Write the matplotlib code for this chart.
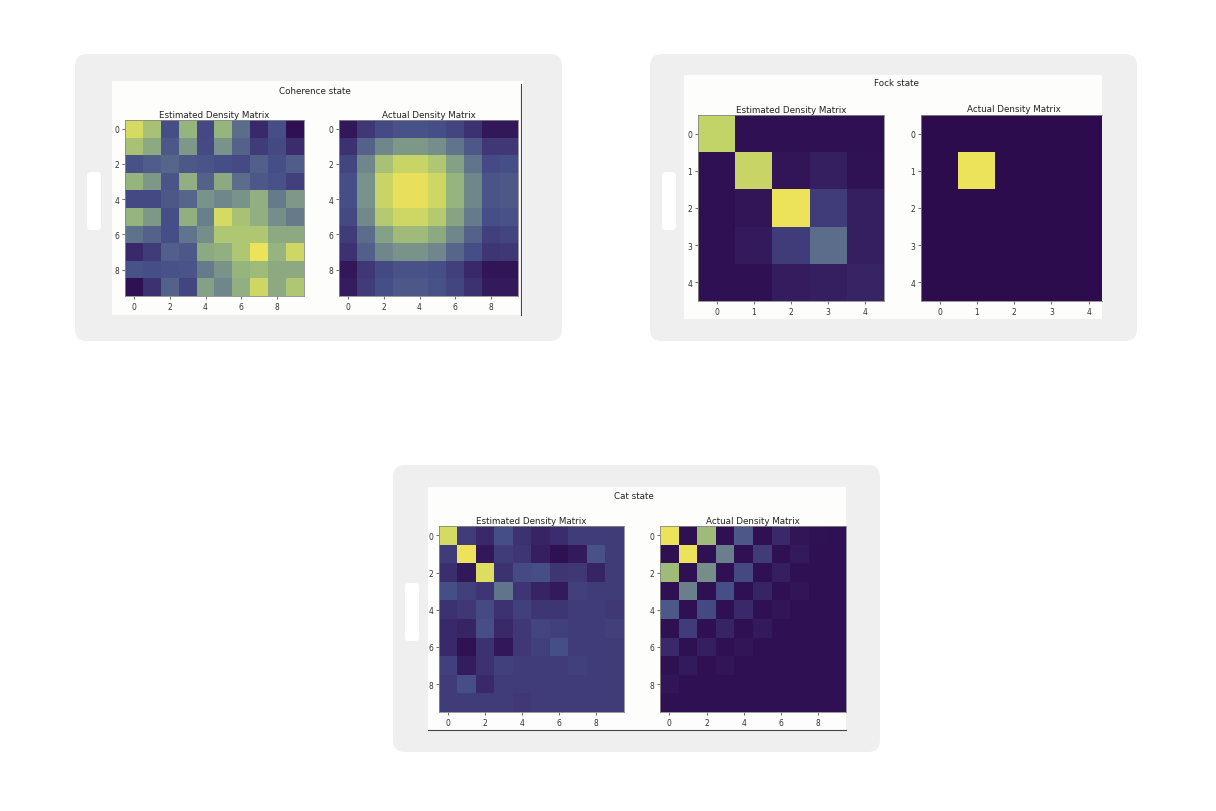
import numpy as np
import matplotlib
matplotlib.use("Agg")
import matplotlib.pyplot as plt
from matplotlib.patches import FancyBboxPatch, Rectangle
from matplotlib.colors import LinearSegmentedColormap

# --- data (0..1 on the colour scale) ---
coherence_est = [
    [0.92, 0.78, 0.30, 0.72, 0.27, 0.72, 0.45, 0.12, 0.30, 0.02],
    [0.78, 0.68, 0.35, 0.62, 0.28, 0.60, 0.40, 0.20, 0.27, 0.13],
    [0.32, 0.37, 0.42, 0.35, 0.33, 0.30, 0.28, 0.38, 0.30, 0.37],
    [0.72, 0.62, 0.33, 0.70, 0.40, 0.68, 0.45, 0.35, 0.32, 0.22],
    [0.27, 0.27, 0.35, 0.42, 0.60, 0.55, 0.60, 0.70, 0.50, 0.62],
    [0.72, 0.62, 0.30, 0.70, 0.52, 0.92, 0.78, 0.70, 0.58, 0.50],
    [0.47, 0.40, 0.30, 0.48, 0.58, 0.80, 0.80, 0.80, 0.68, 0.68],
    [0.12, 0.20, 0.38, 0.35, 0.68, 0.70, 0.80, 1.00, 0.72, 0.90],
    [0.32, 0.30, 0.32, 0.33, 0.50, 0.60, 0.72, 0.75, 0.68, 0.68],
    [0.02, 0.15, 0.40, 0.25, 0.65, 0.55, 0.70, 0.90, 0.68, 0.80],
]
coherence_act = [
    [0.05, 0.18, 0.28, 0.32, 0.32, 0.30, 0.25, 0.15, 0.05, 0.05],
    [0.15, 0.40, 0.55, 0.62, 0.62, 0.58, 0.48, 0.35, 0.18, 0.18],
    [0.25, 0.55, 0.78, 0.88, 0.88, 0.80, 0.65, 0.48, 0.28, 0.30],
    [0.30, 0.60, 0.88, 0.98, 0.98, 0.90, 0.72, 0.55, 0.33, 0.35],
    [0.30, 0.60, 0.88, 0.98, 0.98, 0.90, 0.72, 0.55, 0.33, 0.35],
    [0.27, 0.56, 0.82, 0.90, 0.90, 0.82, 0.66, 0.50, 0.30, 0.32],
    [0.20, 0.45, 0.65, 0.75, 0.75, 0.68, 0.55, 0.40, 0.22, 0.25],
    [0.15, 0.38, 0.55, 0.60, 0.60, 0.55, 0.42, 0.30, 0.17, 0.18],
    [0.05, 0.18, 0.27, 0.32, 0.32, 0.30, 0.22, 0.12, 0.04, 0.04],
    [0.07, 0.20, 0.30, 0.35, 0.35, 0.32, 0.25, 0.15, 0.06, 0.06],
]
fock_est = [
    [0.86, 0.02, 0.02, 0.02, 0.02],
    [0.02, 0.88, 0.04, 0.08, 0.03],
    [0.02, 0.04, 1.00, 0.20, 0.08],
    [0.02, 0.06, 0.20, 0.45, 0.08],
    [0.02, 0.02, 0.07, 0.08, 0.10],
]
fock_act = [
    [0.0, 0.0, 0.0, 0.0, 0.0],
    [0.0, 1.0, 0.0, 0.0, 0.0],
    [0.0, 0.0, 0.0, 0.0, 0.0],
    [0.0, 0.0, 0.0, 0.0, 0.0],
    [0.0, 0.0, 0.0, 0.0, 0.0],
]
cat_est = [
    [0.92, 0.20, 0.12, 0.30, 0.15, 0.10, 0.13, 0.20, 0.20, 0.20],
    [0.20, 1.00, 0.05, 0.20, 0.17, 0.08, 0.02, 0.06, 0.32, 0.20],
    [0.14, 0.05, 0.95, 0.15, 0.28, 0.30, 0.17, 0.18, 0.10, 0.20],
    [0.30, 0.22, 0.17, 0.48, 0.17, 0.10, 0.06, 0.22, 0.20, 0.20],
    [0.15, 0.18, 0.28, 0.15, 0.22, 0.17, 0.17, 0.20, 0.20, 0.18],
    [0.12, 0.10, 0.30, 0.12, 0.18, 0.25, 0.22, 0.20, 0.20, 0.22],
    [0.12, 0.03, 0.15, 0.05, 0.18, 0.22, 0.30, 0.20, 0.20, 0.20],
    [0.22, 0.07, 0.15, 0.22, 0.20, 0.20, 0.20, 0.22, 0.20, 0.20],
    [0.20, 0.30, 0.12, 0.20, 0.20, 0.20, 0.20, 0.20, 0.20, 0.20],
    [0.20, 0.20, 0.20, 0.20, 0.18, 0.20, 0.20, 0.20, 0.20, 0.20],
]
cat_act = [
    [1.00, 0.02, 0.75, 0.02, 0.35, 0.02, 0.12, 0.04, 0.03, 0.02],
    [0.02, 1.00, 0.02, 0.52, 0.02, 0.20, 0.02, 0.06, 0.02, 0.02],
    [0.75, 0.02, 0.58, 0.02, 0.27, 0.02, 0.08, 0.02, 0.02, 0.02],
    [0.02, 0.52, 0.02, 0.30, 0.02, 0.10, 0.02, 0.04, 0.02, 0.02],
    [0.35, 0.02, 0.27, 0.02, 0.12, 0.02, 0.04, 0.02, 0.02, 0.02],
    [0.02, 0.20, 0.02, 0.10, 0.02, 0.06, 0.02, 0.02, 0.02, 0.02],
    [0.12, 0.02, 0.08, 0.02, 0.04, 0.02, 0.02, 0.02, 0.02, 0.02],
    [0.02, 0.06, 0.02, 0.04, 0.02, 0.02, 0.02, 0.02, 0.02, 0.02],
    [0.04, 0.02, 0.02, 0.02, 0.02, 0.02, 0.02, 0.02, 0.02, 0.02],
    [0.02, 0.02, 0.02, 0.02, 0.02, 0.02, 0.02, 0.02, 0.02, 0.02],
]

# muted viridis, as it looks in the screenshots
cmap = LinearSegmentedColormap.from_list("muted_viridis", [
    (0.00, "#2d0c4e"), (0.15, "#3d3272"), (0.30, "#474f88"),
    (0.45, "#5b6d8c"), (0.60, "#7a938a"), (0.72, "#96b47f"),
    (0.85, "#bfd26a"), (1.00, "#ece35b")])

W, H = 1216, 812
fig = plt.figure(figsize=(W / 100, H / 100), dpi=100)
bg = fig.add_axes([0, 0, 1, 1])
bg.set_xlim(0, W)
bg.set_ylim(H, 0)
bg.axis("off")


def pix_axes(x0, y0, x1, y1):
    return fig.add_axes([x0 / W, 1 - y1 / H, (x1 - x0) / W, (y1 - y0) / H])


def tablet(x0, y0, x1, y1, sx0, sy0, sx1, sy1):
    bg.add_patch(FancyBboxPatch((x0 + 12, y0 + 12), x1 - x0 - 24, y1 - y0 - 24,
                                boxstyle="round,pad=12", fc="#efefef", ec="none"))
    bg.add_patch(FancyBboxPatch((x0 + 16, y0 + 122), 6, 50,
                                boxstyle="round,pad=4", fc="white", ec="none"))
    bg.add_patch(Rectangle((sx0, sy0), sx1 - sx0, sy1 - sy0, fc="#fdfdfc", ec="none"))


def heat(box, data, ticks, title):
    ax = pix_axes(*box)
    ax.imshow(np.array(data), cmap=cmap, vmin=0, vmax=1, aspect="auto",
              interpolation="nearest")
    ax.set_xticks(ticks)
    ax.set_yticks(ticks)
    ax.tick_params(labelsize=5.5, length=2, width=0.5, pad=2, colors="#333333")
    for s in ax.spines.values():
        s.set_linewidth(0.6)
        s.set_color("#888888")
    ax.set_title(title, fontsize=6.3, pad=2.5, color="#222222")
    return ax


# coherence state
tablet(75, 55, 562, 342, 112, 82, 523, 316)
bg.plot([521, 521], [85, 316], color="#444444", lw=0.8)
bg.text(315, 92, "Coherence state", fontsize=6.3, ha="center", va="center", color="#222222")
t10 = [0, 2, 4, 6, 8]
heat((125, 121, 304, 297), coherence_est, t10, "Estimated Density Matrix")
heat((339, 121, 518, 297), coherence_act, t10, "Actual Density Matrix")

# fock state
tablet(650, 55, 1137, 342, 684, 76, 1102, 320)
bg.text(896, 84, "Fock state", fontsize=6.3, ha="center", va="center", color="#222222")
t5 = [0, 1, 2, 3, 4]
heat((698, 116, 884, 302), fock_est, t5, "Estimated Density Matrix")
# right panel: the screenshot is cut off at its right edge
ax = heat((921, 116, 1102, 302), fock_act, t5, "")
ax.set_xlim(-0.5, 4.36)
ax.spines["right"].set_visible(False)
bg.text(1014, 110, "Actual Density Matrix", fontsize=6.3, ha="center", va="center",
        color="#222222")

# cat state
tablet(393, 466, 880, 753, 428, 488, 846, 731)
bg.text(634, 497, "Cat state", fontsize=6.3, ha="center", va="center", color="#222222")
heat((439, 527, 624, 713), cat_est, t10, "Estimated Density Matrix")
heat((660, 527, 846, 713), cat_act, t10, "Actual Density Matrix")
bg.plot([428, 846], [731, 731], color="#444444", lw=0.8)

fig.savefig("out.png", dpi=100)
